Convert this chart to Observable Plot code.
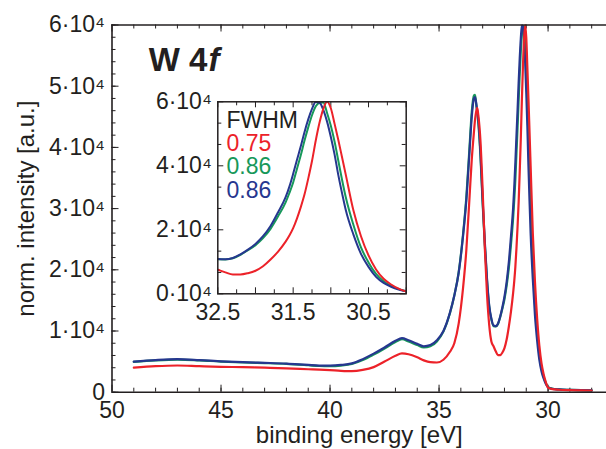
<!DOCTYPE html>
<html><head><meta charset="utf-8">
<script src="https://cdn.jsdelivr.net/npm/d3@7"></script>
<script src="https://cdn.jsdelivr.net/npm/@observablehq/plot@0.6"></script>
<style>
body{margin:0;background:#fff;}
#wrap{position:relative;width:606px;height:449px;overflow:hidden;}
#main{position:absolute;left:0;top:0;}
#inset{position:absolute;left:140px;top:80px;}
</style></head><body><div id="wrap"><div id="main"></div><div id="inset"></div></div>
<script>
// binding energy grid (eV)
const energy = [49, 48, 47, 46, 45, 44, 43, 42, 41, 40.5, 40, 39.5, 39, 38.5, 38, 37.5, 37, 36.7, 36.4, 36, 35.7, 35.4, 35.1, 34.8, 34.5, 34.3, 34.1, 33.9, 33.75, 33.6, 33.5, 33.4, 33.35, 33.3, 33.25, 33.2, 33.1, 33.0, 32.9, 32.8, 32.7, 32.6, 32.5, 32.4, 32.3, 32.2, 32.1, 32.0, 31.9, 31.8, 31.7, 31.6, 31.55, 31.5, 31.45, 31.4, 31.35, 31.3, 31.25, 31.2, 31.15, 31.1, 31.05, 31.0, 30.95, 30.9, 30.85, 30.8, 30.7, 30.6, 30.5, 30.4, 30.3, 30.2, 30.1, 30.0, 29.8, 29.5, 29, 28.5, 28];
// normalized intensities
const blueI = [5000, 5250, 5390, 5250, 5050, 4900, 4800, 4680, 4450, 4350, 4350, 4450, 4700, 5400, 6300, 7300, 8400, 8850, 8500, 7900, 7500, 7700, 8500, 10000, 13000, 15800, 19500, 25500, 31300, 39500, 45000, 48000, 48200, 47300, 46000, 44500, 39000, 31300, 24500, 18500, 14200, 12000, 10900, 10800, 11200, 12300, 13800, 15600, 18000, 21200, 25500, 30200, 33500, 37500, 41800, 46000, 50500, 54500, 57800, 59950, 59700, 57500, 53800, 49000, 43500, 37000, 31300, 26000, 18500, 12500, 8400, 5300, 3400, 2200, 1350, 800, 550, 450, 380, 330, 300];
const greenI = [4950, 5200, 5330, 5200, 5000, 4850, 4750, 4620, 4400, 4280, 4250, 4350, 4600, 5250, 6150, 7150, 8200, 8650, 8300, 7700, 7300, 7500, 8300, 9900, 12900, 15800, 19600, 25800, 31800, 40200, 45800, 48500, 48600, 47200, 45700, 44000, 38500, 30800, 24000, 18200, 14000, 11900, 10800, 10750, 11100, 12200, 13600, 15200, 17400, 20300, 24200, 28600, 31500, 34800, 39000, 43200, 47800, 52000, 55800, 58600, 59700, 59800, 56500, 52500, 47500, 41500, 35500, 30000, 21500, 14500, 9800, 6200, 3900, 2500, 1500, 850, 570, 460, 390, 340, 310];
const redI = [4000, 4250, 4360, 4250, 4150, 4090, 4000, 3900, 3750, 3680, 3600, 3500, 3450, 3650, 4100, 5000, 5950, 6330, 6200, 5700, 5200, 4900, 4850, 5300, 6600, 8000, 11200, 17000, 23150, 32000, 38000, 42500, 44500, 45800, 46470, 45300, 41000, 33000, 23500, 16000, 11000, 8300, 7500, 6700, 6050, 6050, 6450, 7200, 8600, 10700, 13200, 16300, 18200, 20500, 23500, 27000, 31000, 36000, 41500, 47900, 53500, 57800, 60000, 58000, 53100, 48000, 42500, 37000, 26000, 18000, 12000, 7600, 4700, 2900, 1600, 750, 500, 400, 330, 300, 280];

const seriesNames = ["green", "blue", "red"]; // drawing order
const seriesColors = {green: "#17985a", blue: "#26378f", red: "#ec2229"};
const seriesValues = {green: greenI, blue: blueI, red: redI};

const legendLabels = ["FWHM", "0.75", "0.86", "0.86"];
const legendColors = ["#231f20", "#ec2229", "#17985a", "#26378f"];

// axis ticks
const xMainLabels = [50, 45, 40, 35, 30];
const xMainMinor = d3.range(28, 50, 1);
const yMainLabels = [0, 10000, 20000, 30000, 40000, 50000, 60000];
const yMainMinor = d3.range(0, 60001, 2000);
const xInsetLabels = [32.5, 31.5, 30.5];
const xInsetMajor = [32.5, 32, 31.5, 31, 30.5, 30];
const xInsetMinor = [32.25, 31.75, 31.25, 30.75, 30.25];
const yInsetLabels = [0, 20000, 40000, 60000];
const yInsetMinor = [20000/3, 40000/3, 80000/3, 100000/3, 140000/3, 160000/3];

const ink = "#231f20";
const FONT = "'Liberation Sans', Arial, Helvetica, sans-serif";
const sci = d => d === 0 ? "0" : `${d / 10000}·10⁴`;
const sciInset = d => `${d / 10000}·10⁴`;

const rowsOf = name => energy.map((e, i) => ({energy: e, intensity: seriesValues[name][i]}));

// ---------- main chart ----------
const W = 606, H = 449, mL = 111.5, mT = 24.5, mB = 57.3, mR = 0;
const innerW = W - mL - mR, innerH = H - mT - mB;

const mainMarks = [
  Plot.axisX({ticks: xMainLabels, tickSize: 0, tickPadding: 9, tickFormat: d => d, label: null}),
  Plot.axisY({ticks: yMainLabels, tickSize: 0, tickPadding: 7, tickFormat: sci, label: null}),
  Plot.tickX(xMainMinor, {x: d => d, insetTop: innerH - 4, stroke: ink, strokeWidth: 1}),
  Plot.tickX(xMainLabels, {x: d => d, insetTop: innerH - 7, stroke: ink, strokeWidth: 1}),
  Plot.tickX(xMainMinor, {x: d => d, insetBottom: innerH - 4, stroke: ink, strokeWidth: 1}),
  Plot.tickX(xMainLabels, {x: d => d, insetBottom: innerH - 7, stroke: ink, strokeWidth: 1}),
  Plot.tickY(yMainMinor, {y: d => d, insetRight: innerW - 4, stroke: ink, strokeWidth: 1}),
  Plot.tickY(yMainLabels, {y: d => d, insetRight: innerW - 7, stroke: ink, strokeWidth: 1}),
  ...seriesNames.map(n => Plot.line(rowsOf(n), {x: "energy", y: "intensity", stroke: seriesColors[n], strokeWidth: 2.2, curve: "monotone-x"})),
  Plot.ruleY([0, 60000], {stroke: ink, strokeWidth: 1.6}),
  Plot.ruleX([50], {stroke: ink, strokeWidth: 1.6}),
  Plot.text(["norm. intensity [a.u.]"], {text: d => d, frameAnchor: "left", textAnchor: "middle", lineAnchor: "middle", rotate: -90, dx: -86, fill: ink, fontSize: 24}),
  Plot.text(["binding energy [eV]"], {text: d => d, frameAnchor: "bottom", textAnchor: "middle", lineAnchor: "middle", dy: 43.5, fill: ink, fontSize: 24}),
  Plot.text(["W 4"], {text: d => d, frameAnchor: "top-left", textAnchor: "start", lineAnchor: "top", dx: 36.8, dy: 22.5, fontSize: 33, fontWeight: "bold", fill: ink}),
  Plot.text(["f"], {text: d => d, frameAnchor: "top-left", textAnchor: "start", lineAnchor: "top", dx: 96.5, dy: 22.5, fontSize: 33, fontWeight: "bold", fontStyle: "italic", fill: ink})
];

const main = Plot.plot({
  width: W, height: H, marginLeft: mL, marginRight: mR, marginTop: mT, marginBottom: mB,
  style: {fontFamily: FONT, fontSize: "23px", color: ink, background: "transparent", overflow: "visible"},
  x: {domain: [50, 27.32]},
  y: {domain: [0, 60000]},
  marks: mainMarks
});
document.getElementById("main").append(main);

// ---------- inset ----------
const iW = 275, iH = 250, iL = 77.3, iT = 21.3, iR = 9.3, iB = 36.7;
const iInnerW = iW - iL - iR, iInnerH = iH - iT - iB;
const insetRows = n => rowsOf(n).filter(d => d.energy <= 32.8 && d.energy >= 29.7);

const inset = Plot.plot({
  width: iW, height: iH, marginLeft: iL, marginRight: iR, marginTop: iT, marginBottom: iB,
  style: {fontFamily: FONT, fontSize: "23px", color: ink, background: "transparent", overflow: "visible"},
  x: {domain: [32.5, 30.0]},
  y: {domain: [0, 60000]},
  marks: [
    Plot.axisX({ticks: xInsetLabels, tickSize: 0, tickPadding: 10, tickFormat: d => d.toFixed(1), label: null}),
    Plot.axisY({ticks: yInsetLabels, tickSize: 0, tickPadding: 6, tickFormat: sciInset, label: null}),
    Plot.tickX(xInsetMajor, {x: d => d, insetTop: iInnerH - 6, stroke: ink}),
    Plot.tickX(xInsetMinor, {x: d => d, insetTop: iInnerH - 4, stroke: ink}),
    Plot.tickX(xInsetMajor, {x: d => d, insetBottom: iInnerH - 6, stroke: ink}),
    Plot.tickX(xInsetMinor, {x: d => d, insetBottom: iInnerH - 4, stroke: ink}),
    Plot.tickY(yInsetLabels, {y: d => d, insetRight: iInnerW - 6, stroke: ink}),
    Plot.tickY(yInsetMinor, {y: d => d, insetRight: iInnerW - 4, stroke: ink}),
    Plot.tickY(yInsetLabels, {y: d => d, insetLeft: iInnerW - 6, stroke: ink}),
    Plot.tickY(yInsetMinor, {y: d => d, insetLeft: iInnerW - 4, stroke: ink}),
    ...seriesNames.map(n => Plot.line(insetRows(n), {x: "energy", y: "intensity", stroke: seriesColors[n], strokeWidth: 2, curve: "monotone-x", clip: true})),
    Plot.frame({stroke: ink, strokeWidth: 1.5}),
    ...legendLabels.map((t, i) => Plot.text([t], {text: d => d, frameAnchor: "top-left", textAnchor: "start", lineAnchor: "top", dx: 8.7, dy: 9.5 + i * 23.3, fill: legendColors[i], fontSize: 23}))
  ]
});
document.getElementById("inset").append(inset);
</script>
</body></html>
